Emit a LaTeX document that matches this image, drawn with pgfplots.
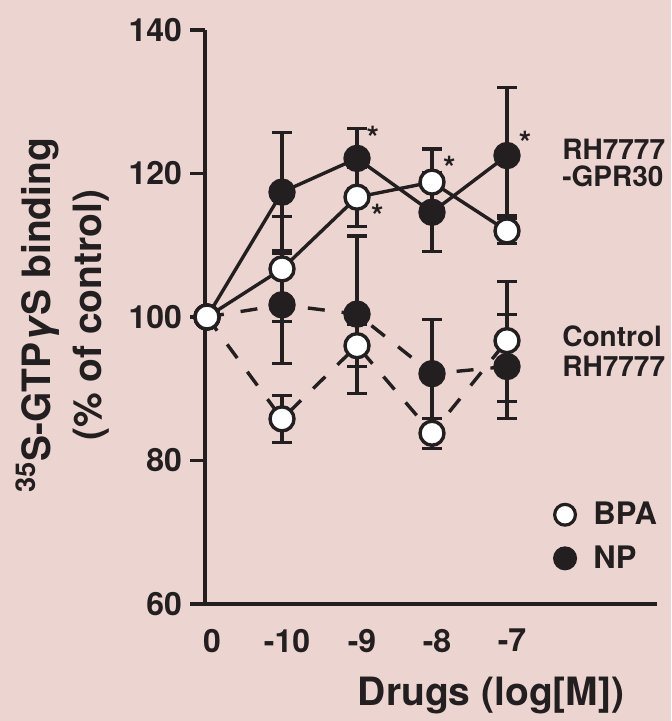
\documentclass[border=0pt]{standalone}
\usepackage{fontspec}
\setmainfont{TeX Gyre Heros}
\usepackage{pgfplots}
\pgfplotsset{compat=1.18}
\definecolor{bg}{RGB}{236,212,208}
\definecolor{ink}{RGB}{35,31,32}

\begin{document}
\begin{tikzpicture}[x=0.5pt,y=0.5pt]
\fill[bg] (0,0) rectangle (671,721);
\begin{axis}[
  at={(102.5pt,58.5pt)}, anchor=south west,
  scale only axis, width=226pt, height=287pt,
  xmin=-0.027, xmax=6.0, ymin=60, ymax=140,
  clip=false,
  axis x line*=bottom, axis y line*=left,
  axis line style={-, ink, line width=1.6pt},
  xtick={0,1,2,3,4}, xticklabels={0,-10,-9,-8,-7},
  ytick={60,80,100,120,140},
  x tick style={draw=none},
  y tick style={ink, line width=1.6pt},
  tick align=outside, major tick length=7.5pt,
  /pgf/number format/assume math mode=true,
  tick label style={font=\bfseries\fontsize{16}{16}\selectfont, text=ink},
  xticklabel style={yshift=-1.5pt, xshift=2.5pt},
  yticklabel style={xshift=-0.5pt},
  xlabel={Drugs (log[M])},
  xlabel style={at={(axis description cs:0.633,-0.159)}, anchor=center,
    font=\bfseries\fontsize{19.5}{19.5}\selectfont, text=ink},
  ylabel={\textsuperscript{35}S-GTP\textit{γ}S binding\\(\% of control)},
  ylabel style={at={(axis description cs:-0.315,0.503)}, anchor=center, rotate=0,
    align=center, font=\bfseries\fontsize{19.5}{25.5}\selectfont, text=ink},
  every axis plot/.append style={ink, line width=1.7pt},
  error bars/y dir=both, error bars/y explicit,
  error bars/error bar style={solid, ink, line width=1.6pt},
  error bars/error mark options={rotate=90, mark size=5pt, line width=1.6pt, ink},
  legend style={at={(axis cs:4.63,69.4)}, anchor=west, draw=none, fill=none,
    font=\bfseries\fontsize{15.5}{15.5}\selectfont, text=ink, inner sep=0pt,
    row sep=5pt, /tikz/every odd column/.append style={column sep=7pt}},
  legend cell align=left,
  legend image code/.code={\draw[#1] plot coordinates {(6.5pt,0pt)};},
]
% Control RH7777, NP
\addplot[dashed, dash pattern=on 8.5pt off 8.5pt, mark=*, mark size=6pt,
  mark options={solid, fill=ink, draw=ink}, forget plot] coordinates {
  (0,100) +- (0,0)
  (1,101.7) += (0,7.1) -= (0,8.2)
  (2,100.4) += (0,10.9) -= (0,11.1)
  (3,92.1) +- (0,7.6)
  (4,93.1) +- (0,7.2)
};
% RH7777-GPR30, NP
\addplot[solid, mark=*, mark size=6pt,
  mark options={solid, fill=ink, draw=ink}, forget plot] coordinates {
  (0,100) +- (0,0)
  (1,117.4) += (0,8.3) -= (0,8.2)
  (2,122.1) +- (0,4.2)
  (3,114.6) +- (0,5.5)
  (4,122.5) += (0,9.5) -= (0,8.3)
};
% Control RH7777, BPA
\addplot[dashed, dash pattern=on 8.5pt off 8.5pt, mark=*, mark size=6pt,
  mark options={solid, fill=white, draw=ink}, forget plot] coordinates {
  (0,100) +- (0,0)
  (1,85.8) +- (0,3.3)
  (2,96.0) +- (0,2.9)
  (3,83.8) +- (0,2.1)
  (4,96.7) += (0,8.2) -= (0,8.5)
};
% RH7777-GPR30, BPA
\addplot[solid, mark=*, mark size=6pt,
  mark options={solid, fill=white, draw=ink}, forget plot] coordinates {
  (0,100) +- (0,0)
  (1,106.7) +- (0,7.3)
  (2,116.7) +- (0,4.1)
  (3,118.8) +- (0,4.6)
  (4,112.0) +- (0,1.8)
};
\addlegendimage{only marks, mark=*, mark size=5.2pt, mark options={fill=white, draw=ink, line width=1.6pt}}
\addlegendentry{BPA}
\addlegendimage{only marks, mark=*, mark size=5.2pt, mark options={fill=ink, draw=ink, line width=1.6pt}}
\addlegendentry{NP}
% significance marks
\begin{scope}[every node/.style={font=\bfseries\fontsize{16}{16}\selectfont, text=ink, inner sep=0pt, yshift=-3pt}]
\node at (axis cs:2.21,125.8) {*};
\node at (axis cs:2.27,115.0) {*};
\node at (axis cs:3.23,121.6) {*};
\node at (axis cs:4.24,125.1) {*};
\end{scope}
\node[anchor=west, align=left, inner sep=0pt, text=ink,
  font=\bfseries\fontsize{14}{13.5}\selectfont] at (axis cs:4.733,121.5) {RH7777\\-GPR30};
\node[anchor=west, align=left, inner sep=0pt, text=ink,
  font=\bfseries\fontsize{14}{15}\selectfont] at (axis cs:4.733,95.2) {Control\\RH7777};
\end{axis}
\end{tikzpicture}
\end{document}
